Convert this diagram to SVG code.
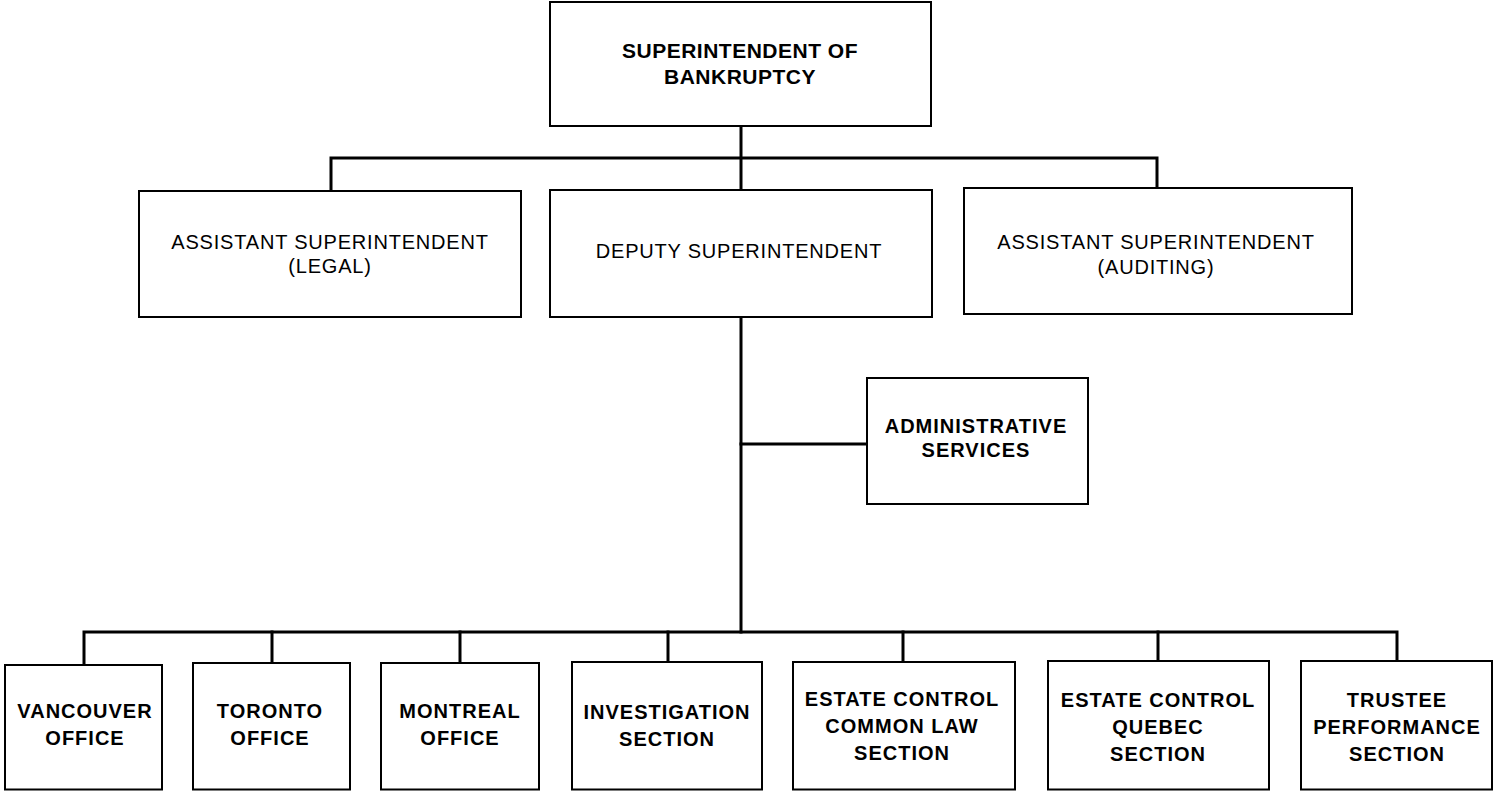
<svg xmlns="http://www.w3.org/2000/svg" width="1494" height="791" viewBox="0 0 1494 791">
<style>
.box{fill:#fff;stroke:#000;stroke-width:2}
.con{fill:none;stroke:#000;stroke-width:3;stroke-linecap:square}
text{font-family:"Liberation Sans",Arial,Helvetica,sans-serif;fill:#000;text-anchor:middle}
.b{font-size:20px;font-weight:bold;letter-spacing:1px}
.r{font-size:20px;font-weight:normal;letter-spacing:0.8px}
.t{font-size:21px;font-weight:bold;letter-spacing:0.5px}
</style>
<rect width="1494" height="791" fill="#fff"/>
<g id="connectors">
<line class="con" x1="741" y1="126" x2="741" y2="190"/>
<polyline class="con" points="331,191 331,158 1157,158 1157,188"/>
<line class="con" x1="741" y1="317" x2="741" y2="632"/>
<line class="con" x1="741" y1="444" x2="867" y2="444"/>
<polyline class="con" points="84,665 84,632 1397,632 1397,661"/>
<line class="con" x1="272" y1="632" x2="272" y2="663"/>
<line class="con" x1="460" y1="632" x2="460" y2="663"/>
<line class="con" x1="668" y1="632" x2="668" y2="662"/>
<line class="con" x1="903" y1="632" x2="903" y2="662"/>
<line class="con" x1="1158" y1="632" x2="1158" y2="661"/>
</g>
<g id="superintendent">
<rect class="box" x="550" y="2" width="381" height="124"/>
<text class="t" x="740" y="58">SUPERINTENDENT OF</text>
<text class="t" x="740" y="84">BANKRUPTCY</text>
</g>
<g id="asst-legal">
<rect class="box" x="139" y="191" width="382" height="126"/>
<text class="r" x="330" y="249">ASSISTANT SUPERINTENDENT</text>
<text class="r" x="330" y="273">(LEGAL)</text>
</g>
<g id="deputy">
<rect class="box" x="550" y="190" width="382" height="127"/>
<text class="r" x="739" y="258">DEPUTY SUPERINTENDENT</text>
</g>
<g id="asst-auditing">
<rect class="box" x="964" y="188" width="388" height="126"/>
<text class="r" x="1156" y="249">ASSISTANT SUPERINTENDENT</text>
<text class="r" x="1156" y="274">(AUDITING)</text>
</g>
<g id="admin">
<rect class="box" x="867" y="378" width="221" height="126"/>
<text class="b" x="976" y="433">ADMINISTRATIVE</text>
<text class="b" x="976" y="457">SERVICES</text>
</g>
<g id="vancouver">
<rect class="box" x="5" y="665" width="157" height="124.5"/>
<text class="b" x="85" y="718">VANCOUVER</text>
<text class="b" x="85" y="745">OFFICE</text>
</g>
<g id="toronto">
<rect class="box" x="193" y="663" width="157" height="126.5"/>
<text class="b" x="270" y="718">TORONTO</text>
<text class="b" x="270" y="745">OFFICE</text>
</g>
<g id="montreal">
<rect class="box" x="381" y="663" width="158" height="126.5"/>
<text class="b" x="460" y="718">MONTREAL</text>
<text class="b" x="460" y="745">OFFICE</text>
</g>
<g id="investigation">
<rect class="box" x="572" y="662" width="190" height="127.5"/>
<text class="b" x="667" y="719">INVESTIGATION</text>
<text class="b" x="667" y="746">SECTION</text>
</g>
<g id="estate-common-law">
<rect class="box" x="793" y="662" width="222" height="127.5"/>
<text class="b" x="902" y="706">ESTATE CONTROL</text>
<text class="b" x="902" y="733">COMMON LAW</text>
<text class="b" x="902" y="760">SECTION</text>
</g>
<g id="estate-quebec">
<rect class="box" x="1048" y="661" width="221" height="128.5"/>
<text class="b" x="1158" y="707">ESTATE CONTROL</text>
<text class="b" x="1158" y="734">QUEBEC</text>
<text class="b" x="1158" y="761">SECTION</text>
</g>
<g id="trustee">
<rect class="box" x="1301" y="661" width="191" height="128.5"/>
<text class="b" x="1397" y="707">TRUSTEE</text>
<text class="b" x="1397" y="734">PERFORMANCE</text>
<text class="b" x="1397" y="761">SECTION</text>
</g>
</svg>
